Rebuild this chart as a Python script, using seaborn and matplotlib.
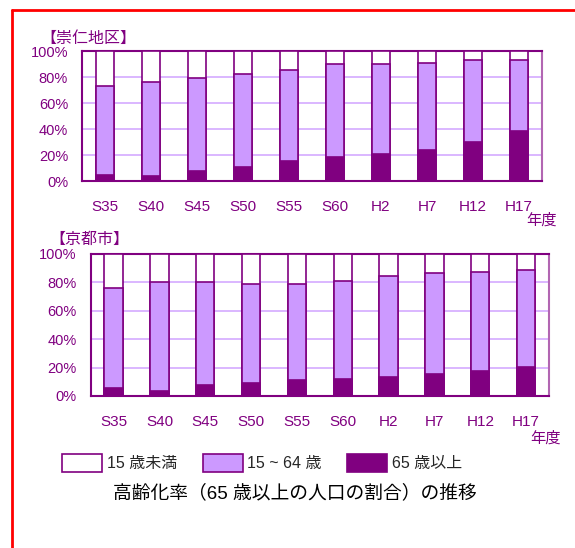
import numpy as np
import pandas as pd
import seaborn as sns
import matplotlib.pyplot as plt
from matplotlib.patches import Patch
from matplotlib.lines import Line2D

YEARS = ["S35", "S40", "S45", "S50", "S55", "S60", "H2", "H7", "H12", "H17"]

# 崇仁地区 (%)
SUUJIN_65 = [4.9, 3.6, 7.9, 11.0, 15.1, 18.5, 20.5, 23.6, 30.0, 38.5]
SUUJIN_15_64 = [67.9, 72.6, 71.3, 71.0, 70.5, 71.2, 69.2, 67.2, 62.8, 54.3]
SUUJIN_U15 = [27.2, 23.8, 20.8, 18.0, 14.4, 10.3, 10.3, 9.2, 7.2, 7.2]

# 京都市 (%)
KYOTO_65 = [5.4, 3.3, 7.7, 8.9, 11.0, 12.0, 13.1, 15.2, 17.3, 20.6]
KYOTO_15_64 = [70.2, 76.6, 72.2, 69.8, 67.9, 69.0, 71.0, 71.0, 70.1, 67.7]
KYOTO_U15 = [24.4, 20.1, 20.1, 21.3, 21.1, 19.0, 15.9, 13.8, 12.6, 11.7]

LEGEND = ["15 歳未満", "15 ~ 64 歳", "65 歳以上"]
TITLE = "高齢化率（65 歳以上の人口の割合）の推移"

PURPLE = "#800080"
LIGHT = "#cc99ff"
GRID = "#d4aaff"
CJK = ["Liberation Sans", "Noto Sans CJK JP"]


def stacked_panel(ax, old, mid, young, title, nendo_x):
    df = pd.DataFrame({"year": YEARS, "old": old, "mid": mid, "young": young})
    df["top_mid"] = df["old"] + df["mid"]
    df["top_all"] = df["top_mid"] + df["young"]
    for col, fc in [("top_all", "white"), ("top_mid", LIGHT), ("old", PURPLE)]:
        sns.barplot(ax=ax, data=df, x="year", y=col, color=fc, saturation=1,
                    width=0.4, edgecolor=PURPLE, linewidth=1.2, zorder=3)
    ax.set_ylim(0, 100)
    ax.set_xlim(-0.5, len(YEARS) - 0.5)
    ax.set_yticks(np.arange(0, 101, 20))
    ax.set_yticklabels([f"{v}%" for v in range(0, 101, 20)])
    ax.set_xticks(np.arange(-0.5, len(YEARS)), minor=True)
    ax.set_xlabel("")
    ax.set_ylabel("")
    ax.yaxis.grid(True, color=GRID, linewidth=1.2, zorder=0)
    ax.xaxis.grid(False)
    ax.set_axisbelow(True)
    for s in ax.spines.values():
        s.set_visible(True)
        s.set_color(PURPLE)
        s.set_linewidth(1.5)
    ax.spines["right"].set_color("#b266b2")
    ax.tick_params(axis="x", which="major", length=0, pad=14,
                   labelsize=11, labelcolor=PURPLE)
    ax.tick_params(axis="x", which="minor", direction="in", length=5,
                   width=1.2, color=PURPLE)
    ax.tick_params(axis="y", length=0, pad=10, labelsize=10.5,
                   labelcolor=PURPLE)
    ax.text(-0.09, 1.1, title, transform=ax.transAxes, fontsize=11.5,
            color=PURPLE, ha="left", va="center")
    ax.text(nendo_x, -0.3, "年度", transform=ax.transAxes, fontsize=11,
            color=PURPLE, ha="center", va="center")


sns.set_style("white")
plt.rcParams["font.family"] = CJK

fig = plt.figure(figsize=(5.75, 5.48), dpi=100)
ax1 = fig.add_axes([0.1426, 0.6697, 0.80, 0.2372])
ax2 = fig.add_axes([0.1577, 0.2774, 0.7971, 0.2596])

stacked_panel(ax1, SUUJIN_65, SUUJIN_15_64, SUUJIN_U15, "【崇仁地区】", 1.0)
stacked_panel(ax2, KYOTO_65, KYOTO_15_64, KYOTO_U15, "【京都市】", 0.993)

handles = [Patch(facecolor="white", edgecolor=PURPLE, linewidth=1.2),
           Patch(facecolor=LIGHT, edgecolor=PURPLE, linewidth=1.2),
           Patch(facecolor=PURPLE, edgecolor=PURPLE, linewidth=1.2)]
fig.legend(handles, LEGEND, loc="center left", bbox_to_anchor=(0.108, 1 - 463 / 548),
           ncol=3, frameon=False, fontsize=11.5, handlelength=2.5,
           handleheight=1.3, handletextpad=0.3, columnspacing=1.6,
           borderaxespad=0, borderpad=0)

fig.text(295 / 575, 1 - 493 / 548, TITLE, fontsize=13.5, color="black",
         ha="center", va="center")

# red frame
fig.add_artist(Line2D([12 / 575, 12 / 575], [0, 1 - 10 / 548], color="red", lw=2))
fig.add_artist(Line2D([12 / 575, 1], [1 - 10 / 548, 1 - 10 / 548], color="red", lw=2))

fig.savefig("out.png", dpi=100)
